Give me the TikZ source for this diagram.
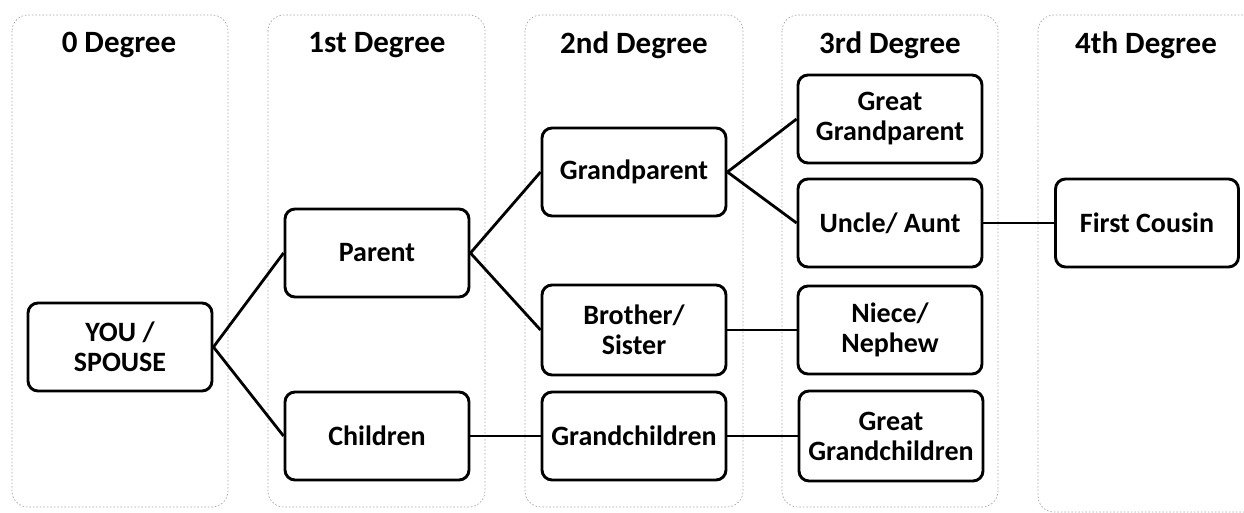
\documentclass[tikz,border=0pt]{standalone}
\usepackage{fontspec}
\setmainfont{Carlito}
\begin{document}
\begin{tikzpicture}[x=1pt,y=-1pt,
  box/.style={draw, line width=2.9pt, rounded corners=10pt, inner sep=0pt, align=center,
    minimum width=184pt, minimum height=88pt, font=\bfseries\fontsize{28}{30}\selectfont},
  hdr/.style={font=\bfseries\fontsize{31}{34}\selectfont},
  col/.style={draw=gray!70, line width=0.7pt, dash pattern=on 1.5pt off 2pt, rounded corners=16pt},
  link/.style={line width=2.8pt},
  hlink/.style={line width=2.3pt}]
\useasboundingbox (0,0) rectangle (1244,513);
% column backgrounds
\draw[col] (12,15) rectangle (228,507);
\draw[col] (268,15) rectangle (485,507);
\draw[col] (525,15) rectangle (743,507);
\draw[col] (782,15) rectangle (998,507);
\draw[col] (1038,15) rectangle (1262,512);
% headers
\node[hdr] (h0) at (119,45) {0 Degree};
\node[hdr] (h1) at (377,45) {1st Degree};
\node[hdr] (h2) at (634,45) {2nd Degree};
\node[hdr] (h3) at (890,45) {3rd Degree};
\node[hdr] (h4) at (1146,45) {4th Degree};
% boxes
\node[box] (you) at (120,347) {YOU /\\SPOUSE};
\node[box] (parent) at (377,253) {Parent};
\node[box] (children) at (377,436) {Children};
\node[box] (gp) at (634,172) {Grandparent};
\node[box, minimum height=90pt] (bs) at (634,330) {Brother/\\Sister};
\node[box] (gc) at (634,436) {Grandchildren};
\node[box] (ggp) at (890,119) {Great\\Grandparent};
\node[box] (ua) at (890,223) {Uncle/ Aunt};
\node[box] (nn) at (890,330) {Niece/\\Nephew};
\node[box, minimum height=90pt] (ggc) at (891,436) {Great\\Grandchildren};
\node[box, minimum width=183pt] (fc) at (1147,223) {First Cousin};
% connectors
\draw[link] (you.east) -- (parent.west);
\draw[link] (you.east) -- (children.west);
\draw[link] (parent.east) -- (gp.west);
\draw[link] (parent.east) -- (bs.west);
\draw[link] (gp.east) -- (ggp.west);
\draw[link] (gp.east) -- (ua.west);
\draw[hlink] (ua.east) -- (fc.west);
\draw[hlink] (bs.east) -- (nn.west);
\draw[hlink] (children.east) -- (gc.west);
\draw[hlink] (gc.east) -- (ggc.west);
\end{tikzpicture}
\end{document}
